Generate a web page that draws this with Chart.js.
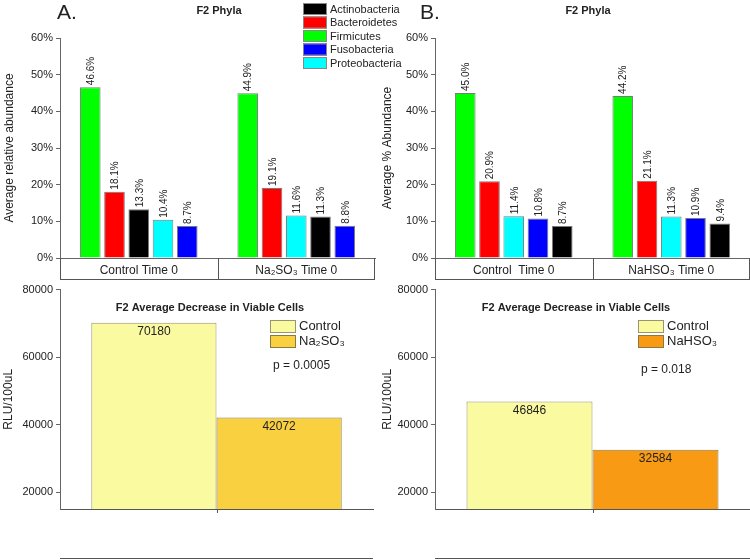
<!DOCTYPE html>
<html>
<head>
<meta charset="utf-8">
<script src="https://cdn.jsdelivr.net/npm/chart.js@4.4.1/dist/chart.umd.min.js"></script>
<style>
  body { margin: 0; background: #fff; }
  #wrap { position: relative; width: 750px; height: 560px; overflow: hidden; background: #fff; }
  canvas { position: absolute; }
</style>
</head>
<body>
<div id="wrap">
  <canvas id="phylaA" width="420" height="280" style="left:0;top:0;width:420px;height:280px"></canvas>
  <canvas id="phylaB" width="375" height="280" style="left:375px;top:0;width:375px;height:280px"></canvas>
  <canvas id="cellsA" width="375" height="280" style="left:0;top:280px;width:375px;height:280px"></canvas>
  <canvas id="cellsB" width="375" height="280" style="left:375px;top:280px;width:375px;height:280px"></canvas>
</div>
<script>
const FONT = "'Liberation Sans', Arial, Helvetica, sans-serif";
Chart.defaults.font.family = FONT;
Chart.defaults.color = '#222';
Chart.defaults.animation = false;
Chart.defaults.plugins.legend.display = false;
Chart.defaults.plugins.tooltip.enabled = false;

// phyla (legend order) and their colours
const phyla = ['Actinobacteria', 'Bacteroidetes', 'Firmicutes', 'Fusobacteria', 'Proteobacteria'];
const phylaColors = ['#000000', '#ff0000', '#00ff00', '#0000ff', '#00ffff'];

// panel A, top: average relative abundance (%)
const groupsA = ['Control Time 0', 'Na\u2082SO\u2083 Time 0'];
const actinoA = [13.3, 11.3];
const bacteroA = [18.1, 19.1];
const firmA = [46.6, 44.9];
const fusoA = [8.7, 8.8];
const proteoA = [10.4, 11.6];

// panel B, top
const groupsB = ['Control  Time 0', 'NaHSO\u2083 Time 0'];
const actinoB = [8.7, 9.4];
const bacteroB = [20.9, 21.1];
const firmB = [45.0, 44.2];
const fusoB = [10.8, 10.9];
const proteoB = [11.4, 11.3];

const percentTicks = [0, 10, 20, 30, 40, 50, 60];

// bottom panels: RLU/100uL
const cellGroups = [''];
const controlA = [70180];
const sulfiteA = [42072];
const controlB = [46846];
const bisulfiteB = [32584];
const rluTicks = [20000, 40000, 60000, 80000];
const pValueA = 'p = 0.0005';
const pValueB = 'p = 0.018';

function label(ctx, str, x, y, font, align = 'left', base = 'middle') {
  ctx.save();
  ctx.font = font;
  ctx.fillStyle = '#222';
  ctx.textAlign = align;
  ctx.textBaseline = base;
  ctx.fillText(str, x, y);
  ctx.restore();
}

function hline(ctx, x1, x2, y) {
  ctx.beginPath(); ctx.moveTo(x1, y); ctx.lineTo(x2, y); ctx.stroke();
}
function vline(ctx, x, y1, y2) {
  ctx.beginPath(); ctx.moveTo(x, y1); ctx.lineTo(x, y2); ctx.stroke();
}

// bars are sorted by size inside each group, so datasets are ranks
function rankDatasets(groups, series) {
  const out = phyla.map((p, r) => ({
    label: 'rank ' + (r + 1), data: [], backgroundColor: [],
    borderColor: '#7a7a7a', borderWidth: 1,
    categoryPercentage: 0.77, barPercentage: 0.85
  }));
  groups.forEach((g, gi) => {
    const order = phyla.map((p, i) => i).sort((a, b) => series[b][gi] - series[a][gi]);
    order.forEach((pi, r) => {
      out[r].data.push(series[pi][gi]);
      out[r].backgroundColor.push(phylaColors[pi]);
    });
  });
  return out;
}

function phylaChart(id, groups, series, o) {
  return new Chart(document.getElementById(id), {
    type: 'bar',
    data: { labels: groups, datasets: rankDatasets(groups, series) },
    options: {
      responsive: false,
      layout: { padding: { left: 0, right: o.padRight, top: 38, bottom: 0 } },
      scales: {
        x: {
          afterFit: s => { s.height = 22; },
          grid: { display: false, drawTicks: false },
          border: { display: true, color: '#666' },
          ticks: { font: { size: 12 }, padding: 5, color: '#222' }
        },
        y: {
          min: 0, max: 60,
          afterFit: s => { s.width = 60; },
          afterBuildTicks: s => { s.ticks = percentTicks.map(v => ({ value: v })); },
          grid: { drawOnChartArea: false, tickLength: 4, color: '#666' },
          border: { color: '#666' },
          ticks: { font: { size: 11 }, padding: 3, color: '#222', callback: v => v + '%' },
          title: { display: true, text: o.yTitle, font: { size: 12 }, color: '#222', padding: { top: o.titlePad, bottom: 0 } }
        }
      }
    },
    plugins: [{
      id: 'phylaDecor',
      afterDatasetsDraw(chart) {
        const ctx = chart.ctx;
        chart.data.datasets.forEach((ds, i) => {
          chart.getDatasetMeta(i).data.forEach((bar, j) => {
            ctx.save();
            ctx.translate(bar.x + 1, bar.y - 2);
            ctx.rotate(-Math.PI / 2);
            ctx.font = '10px ' + FONT;
            ctx.fillStyle = '#222';
            ctx.textAlign = 'left';
            ctx.textBaseline = 'middle';
            ctx.fillText(ds.data[j].toFixed(1) + '%', 0, 0);
            ctx.restore();
          });
        });
      },
      afterDraw(chart) {
        const { ctx, chartArea: a, scales: { x } } = chart;
        ctx.save();
        ctx.strokeStyle = '#555';
        ctx.lineWidth = 1;
        const mid = (x.getPixelForValue(0) + x.getPixelForValue(1)) / 2;
        const yb = a.bottom + 21.5;
        vline(ctx, a.left + 0.5, a.bottom, yb);
        vline(ctx, Math.round(mid) + 0.5, a.bottom, yb);
        vline(ctx, a.right - 0.5, a.bottom, yb);
        hline(ctx, a.left, a.right, yb);
        ctx.restore();

        label(ctx, o.letter, o.letterX, 19, '21px ' + FONT, 'left', 'alphabetic');
        label(ctx, 'F2 Phyla', o.titleX, 11, 'bold 11px ' + FONT, 'center');

        if (o.legend) {
          phyla.forEach((p, i) => {
            const y = 3 + i * 13.5;
            ctx.fillStyle = phylaColors[i];
            ctx.fillRect(303, y, 24, 12);
            ctx.strokeStyle = '#888';
            ctx.strokeRect(303.5, y + 0.5, 23, 11);
            label(ctx, p, 330, y + 6.5, '11px ' + FONT);
          });
        }
      }
    }]
  });
}

function cellsChart(id, control, treated, o) {
  return new Chart(document.getElementById(id), {
    type: 'bar',
    data: {
      labels: cellGroups,
      datasets: [
        { label: 'Control', data: control, backgroundColor: '#fafaa0', borderColor: '#9a9470', borderWidth: 1, categoryPercentage: 0.8, barPercentage: 1 },
        { label: o.treatLabel, data: treated, backgroundColor: o.treatColor, borderColor: '#8a7a40', borderWidth: 1, categoryPercentage: 0.8, barPercentage: 1 }
      ]
    },
    options: {
      responsive: false,
      layout: { padding: { left: 0, right: o.padRight, top: 9, bottom: 0 } },
      scales: {
        x: {
          afterFit: s => { s.height = 51; },
          grid: { display: false, drawTicks: false },
          border: { display: true, color: '#555' },
          ticks: { display: false }
        },
        y: {
          min: 15000, max: 80000,
          afterFit: s => { s.width = 60; },
          afterBuildTicks: s => { s.ticks = rluTicks.map(v => ({ value: v })); },
          grid: { drawOnChartArea: false, tickLength: 4, color: '#666' },
          border: { color: '#666' },
          ticks: { font: { size: 11 }, padding: 3, color: '#222', callback: v => String(v) },
          title: { display: true, text: 'RLU/100uL', font: { size: 12 }, color: '#222', padding: { top: o.titlePad, bottom: 0 } }
        }
      }
    },
    plugins: [{
      id: 'cellsDecor',
      afterDatasetsDraw(chart) {
        const ctx = chart.ctx;
        chart.data.datasets.forEach((ds, i) => {
          chart.getDatasetMeta(i).data.forEach((bar, j) => {
            label(ctx, String(ds.data[j]), bar.x, bar.y + 3, '12px ' + FONT, 'center', 'top');
          });
        });
      },
      afterDraw(chart) {
        const { ctx, chartArea: a, scales: { x } } = chart;
        ctx.save();
        ctx.strokeStyle = '#555';
        ctx.lineWidth = 1;
        const cx = Math.round(x.getPixelForValue(0)) + 0.5;
        vline(ctx, cx, a.bottom, a.bottom + 4);
        hline(ctx, a.left, a.right, chart.height - 1.5);
        ctx.restore();

        label(ctx, 'F2 Average Decrease in Viable Cells', o.titleX, 28, 'bold 11px ' + FONT, 'center');
        chart.data.datasets.forEach((ds, i) => {
          const y = 40 + i * 15;
          ctx.fillStyle = ds.backgroundColor;
          ctx.fillRect(o.legendX, y, 26, 13);
          ctx.strokeStyle = ds.borderColor;
          ctx.strokeRect(o.legendX + 0.5, y + 0.5, 25, 12);
          label(ctx, ds.label, o.legendX + 29, y + 6.5, '13px ' + FONT);
        });
        label(ctx, o.p, o.pX, o.pY, '12px ' + FONT);
      }
    }]
  });
}

phylaChart('phylaA', groupsA, [actinoA, bacteroA, firmA, fusoA, proteoA], {
  padRight: 45, yTitle: 'Average relative abundance', titlePad: 2,
  letter: 'A.', letterX: 57, titleX: 219, legend: true
});
phylaChart('phylaB', groupsB, [actinoB, bacteroB, firmB, fusoB, proteoB], {
  padRight: 0, yTitle: 'Average % Abundance', titlePad: 5,
  letter: 'B.', letterX: 45, titleX: 213, legend: false
});
cellsChart('cellsA', controlA, sulfiteA, {
  padRight: 2, treatLabel: 'Na\u2082SO\u2083', treatColor: '#f8d040', titlePad: 1,
  titleX: 210, legendX: 270, p: pValueA, pX: 273, pY: 86
});
cellsChart('cellsB', controlB, bisulfiteB, {
  padRight: 0, treatLabel: 'NaHSO\u2083', treatColor: '#f99a14', titlePad: 5,
  titleX: 201, legendX: 263, p: pValueB, pX: 266, pY: 90
});
</script>
</body>
</html>
